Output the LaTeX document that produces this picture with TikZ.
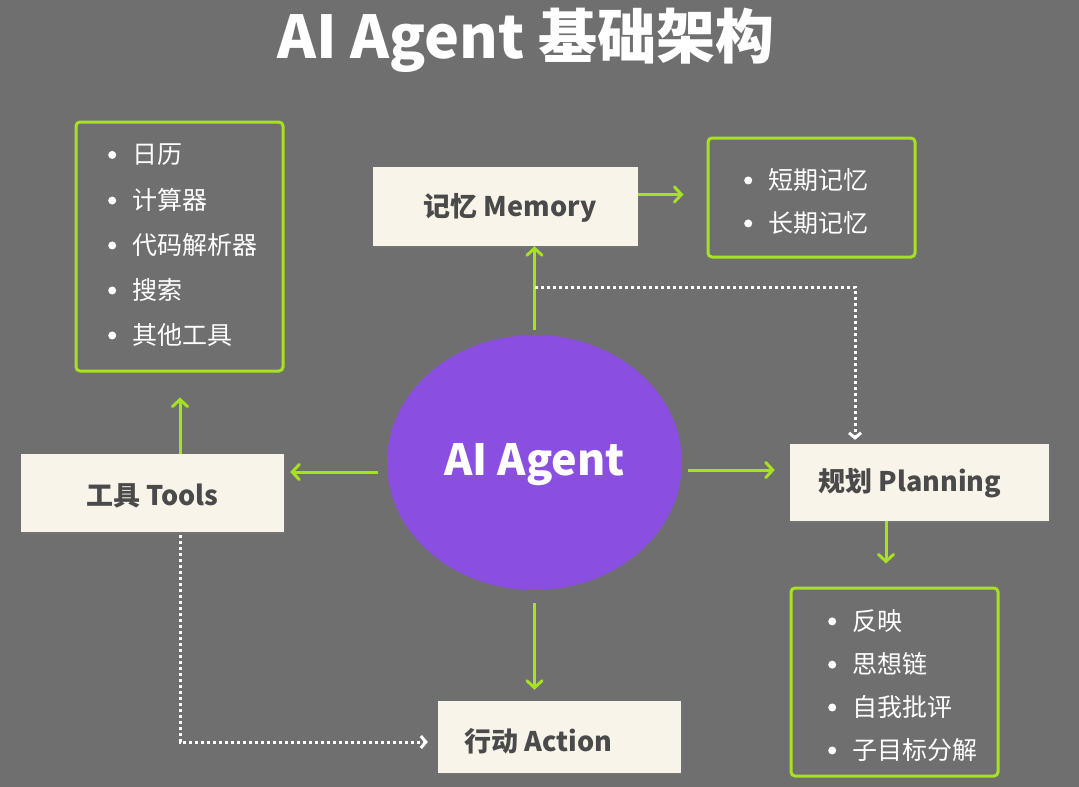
\documentclass[tikz,border=0pt]{standalone}
\usepackage{fontspec}
\setmainfont{Noto Sans CJK SC}
\usetikzlibrary{arrows.meta,shadows,shapes.geometric}
\definecolor{bgc}{HTML}{6F6F6F}
\definecolor{lime}{HTML}{A6E122}
\definecolor{cream}{HTML}{F8F4EA}
\definecolor{boxtxt}{HTML}{4A4A4A}
\definecolor{violet}{HTML}{8A4FE0}
\newcommand{\bul}{\tikz[baseline=-0.36em]\fill[white] (0,0) circle (4pt);\hspace{16pt}}
\newcommand{\lowr}[2]{\raisebox{-#1}[\height][\depth]{#2}}
\begin{document}
\begin{tikzpicture}[x=1pt,y=-1pt,
  cbox/.style={rectangle, fill=cream, text=boxtxt, inner sep=0pt,
    font=\fontsize{27}{30}\selectfont\bfseries,
    drop shadow={opacity=0.25, shadow xshift=1pt, shadow yshift=-2pt}},
  lbox/.style={rectangle, draw=lime, line width=3pt, rounded corners=4pt, inner sep=0pt},
  item/.style={anchor=west, text=white, inner sep=0pt, font=\fontsize{25}{27}\selectfont},
  gar/.style={draw=lime, line width=3pt, -{Straight Barb[length=7pt,width=15pt,line cap=round]}},
  dar/.style={draw=white, line width=3pt, dash pattern=on 3pt off 3pt,
    -{Straight Barb[length=5pt,width=12pt]}}]
\fill[bgc] (0,0) rectangle (1079,787);
\useasboundingbox (0,0) rectangle (1079,787);

% title
\node[text=white, font=\fontsize{59}{64}\selectfont\bfseries, inner sep=0pt] (title) at (526,40) {AI Agent 基础架构};

% list boxes
\node[lbox, minimum width=207pt, minimum height=249pt] (tlist) at (179.5,246.5) {};
\node[lbox, minimum width=207pt, minimum height=119pt] (mlist) at (811.5,197.5) {};
\node[lbox, minimum width=207pt, minimum height=188pt] (plist) at (894.5,682) {};

\node[item] (t1) at (108,155) {\bul 日历};
\node[item] (t2) at (108,200) {\bul 计算器};
\node[item] (t3) at (108,245) {\bul 代码解析器};
\node[item] (t4) at (108,290) {\bul 搜索};
\node[item] (t5) at (108,335) {\bul 其他工具};

\node[item] (m1) at (744,180) {\bul 短期记忆};
\node[item] (m2) at (744,223) {\bul 长期记忆};

\node[item] (p1) at (828,621) {\bul 反映};
\node[item] (p2) at (828,664) {\bul 思想链};
\node[item] (p3) at (828,707) {\bul 自我批评};
\node[item] (p4) at (828,750) {\bul 子目标分解};

% main boxes
\node[cbox, minimum width=265pt, minimum height=79pt] (mem) at (505.5,206.5) {\hspace*{9pt}\lowr{1pt}{记忆 Memory}};
\node[cbox, minimum width=263pt, minimum height=78pt] (tools) at (152.5,493) {\lowr{3pt}{工具 Tools}};
\node[cbox, minimum width=259pt, minimum height=77pt] (plan) at (919.5,482.5) {\hspace*{-19pt}\lowr{1pt}{规划 Planning}};
\node[cbox, minimum width=243pt, minimum height=72pt] (act) at (559.5,737) {\hspace*{-42pt}\lowr{4pt}{行动 Action}};

% agent
\node[ellipse, fill=violet, minimum width=295pt, minimum height=255pt, inner sep=0pt,
  text=white, font=\fontsize{43}{46}\selectfont\bfseries] (agent) at (534.5,462.5) {\lowr{2pt}{AI Agent}};

% green arrows
\draw[gar, shorten <=5pt] (agent.north) -- (agent.north |- mem.south);
\draw[gar, shorten >=23pt] ([yshift=12pt]mem.east) -- ([yshift=12pt]mem.east -| mlist.west);
\draw[gar, shorten <=9pt, shorten >=6pt] ([yshift=-9.5pt]agent.west) -- ([yshift=-9.5pt]agent.west -| tools.east);
\draw[gar, shorten <=6pt, shorten >=15pt] ([yshift=-7.5pt]agent.east) -- ([yshift=-7.5pt]agent.east -| plan.west);
\draw[gar, shorten <=13pt, shorten >=11pt] (agent.south) -- (agent.south |- act.north);
\draw[gar, shorten >=25pt] ([xshift=27.5pt]tools.north) -- ([xshift=27.5pt]tools.north |- tlist.south);
\draw[gar, shorten >=23pt] ([xshift=-33.5pt]plan.south) -- ([xshift=-33.5pt]plan.south |- plist.north);

% dotted arrows
\coordinate (dm) at (535,287);
\draw[dar, shorten >=4pt] (dm) -| ([xshift=-64.5pt]plan.north);
\draw[dar, shorten <=3pt, shorten >=10pt] ([xshift=27.5pt]tools.south) |- ([yshift=-5pt]act.west);
\end{tikzpicture}
\end{document}
